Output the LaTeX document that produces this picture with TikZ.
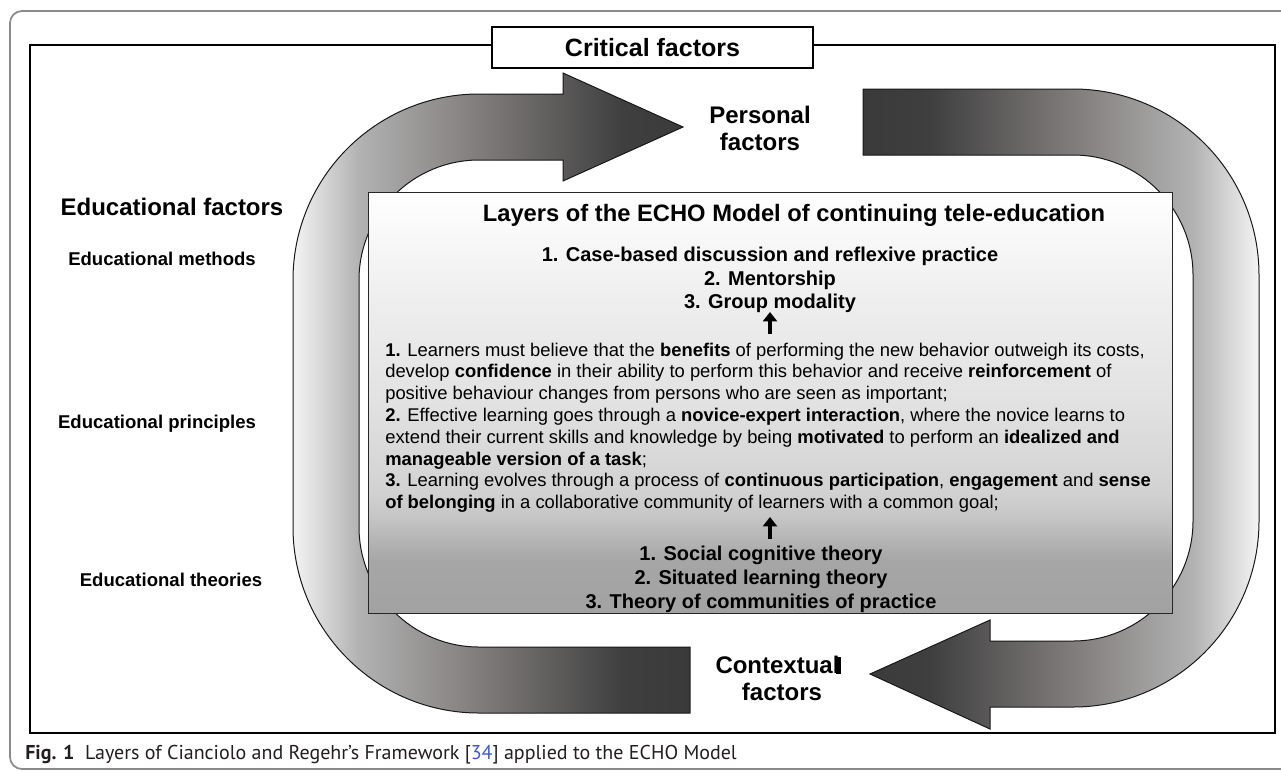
\documentclass[tikz,border=0pt]{standalone}
\usepackage{fontspec}
\setmainfont{Liberation Sans}
\newfontfamily\capfont{PT Sans}
\usetikzlibrary{arrows.meta}

\definecolor{aW}{HTML}{F4F4F4}
\definecolor{aL}{HTML}{B2B2B2}
\definecolor{aM}{HTML}{807C7B}
\definecolor{aD}{HTML}{3F3F3F}
\definecolor{aDD}{HTML}{3A3A3A}
\definecolor{b0}{HTML}{A2A2A2}
\definecolor{b1}{HTML}{A6A6A6}
\definecolor{b2}{HTML}{B4B4B4}
\definecolor{b3}{HTML}{C6C6C6}
\definecolor{b4}{HTML}{D2D2D2}
\definecolor{b5}{HTML}{E2E2E2}
\definecolor{b6}{HTML}{EEEEEE}
\definecolor{b7}{HTML}{FFFFFF}
\definecolor{framegray}{HTML}{8A8A8A}
\definecolor{linkblue}{HTML}{3B5BDB}
\definecolor{captext}{HTML}{231F20}

\pgfdeclarehorizontalshading{arrowA}{100bp}{color(0bp)=(aW); color(25bp)=(aW); color(33.3bp)=(aL); color(48.5bp)=(aM); color(66.5bp)=(aD); color(75bp)=(aDD); color(100bp)=(aDD)}
\pgfdeclarehorizontalshading{arrowB}{100bp}{color(0bp)=(aDD); color(25bp)=(aDD); color(33.5bp)=(aD); color(51.5bp)=(aM); color(66.7bp)=(aL); color(75bp)=(aW); color(100bp)=(aW)}
\pgfdeclareverticalshading{boxshade}{100bp}{color(0bp)=(b0); color(25bp)=(b0); color(31.3bp)=(b1); color(33.7bp)=(b2); color(36.6bp)=(b3); color(39.6bp)=(b4); color(50.3bp)=(b5); color(62.2bp)=(b6); color(75bp)=(b7); color(100bp)=(b7)}

\tikzset{
  heading/.style={font=\fontsize{18}{20}\selectfont\bfseries, anchor=base, inner sep=0pt},
  sidelabel/.style={font=\fontsize{13.9}{16}\selectfont\bfseries, anchor=base, inner sep=0pt},
  methline/.style={font=\fontsize{15}{17}\selectfont\bfseries, anchor=base, inner sep=0pt},
  bodyline/.style={font=\fontsize{13.8}{16}\selectfont, anchor=base west, inner sep=0pt},
  bigarrow/.style={draw=black!90, line width=0.75pt},
  uparrow/.style={line width=3pt, -{Triangle[length=7pt,width=10.5pt]}},
}

\begin{document}
\begin{tikzpicture}[x=0.75pt,y=-0.75pt]
\useasboundingbox (0,0) rectangle (1281,772);
\fill[white] (0,0) rectangle (1281,772);
\clip (0,0) rectangle (1281,772);

% outer rounded frame
\draw[framegray, line width=1.3pt, rounded corners=9pt] (10,11) rectangle (1300,769);
% inner frame
\draw[black, line width=1.5pt] (30,45) rectangle (1275,733);
% critical factors box
\node[draw, fill=white, line width=1.1pt, minimum width=240.75pt, minimum height=30.75pt, inner sep=0pt,
      font=\fontsize{18.75}{20}\selectfont\bfseries] (crit) at (652.5,47.5) {Critical factors};

% left arrow (educational -> personal)
\shadedraw[shading=arrowA, bigarrow]
  (690,647) -- (479,647) arc[start angle=90, end angle=180, radius=120]
  -- (359,280) arc[start angle=180, end angle=270, radius=120]
  -- (563,160) -- (563,181) -- (683,127) -- (563,73) -- (563,94) -- (479,94)
  arc[start angle=270, end angle=180, radius=186]
  -- (293,527) arc[start angle=180, end angle=90, radius=186]
  -- (690,713) -- cycle;

% right arrow (personal -> contextual)
\shadedraw[shading=arrowB, bigarrow]
  (863,89) -- (1073,89) arc[start angle=270, end angle=360, radius=186]
  -- (1259,521) arc[start angle=0, end angle=90, radius=186]
  -- (990,707) -- (990,729) -- (870,674) -- (990,620) -- (990,641) -- (1073,641)
  arc[start angle=90, end angle=0, radius=120]
  -- (1193,275) arc[start angle=0, end angle=-90, radius=120]
  -- (863,155) -- cycle;

% central box
\node[draw=black!85, line width=1.1pt, shading=boxshade, shade, minimum width=603pt, minimum height=315.75pt,
      inner sep=0pt, anchor=north west] (core) at (368,192) {};

% labels outside
\node[heading] (personal1) at (760,123) {Personal};
\node[heading] (personal2) at (760,150) {factors};
\node[heading] (context1) at (777.5,673.6) {Contextual};
\node[heading] (context2) at (782,700.6) {factors};
\fill[black] (836,657) rectangle (841,674);

\node[heading] (edufac) at (172,215.6) {Educational factors};
\node[sidelabel] (edumeth) at (162,265.6) {Educational methods};
\node[sidelabel] (eduprin) at (157,428.6) {Educational principles};
\node[sidelabel] (eduthe) at (171,586.6) {Educational theories};

% central box content
\node[heading, font=\fontsize{17.8}{20}\selectfont\bfseries] (title) at (794,221.6) {Layers of the ECHO Model of continuing tele-education};
\node[methline] (m1) at (770,261) {1. Case-based discussion and reflexive practice};
\node[methline] (m2) at (770,285) {2. Mentorship};
\node[methline] (m3) at (770,308) {3. Group modality};

\coordinate (up1s) at (770,334);
\coordinate (up1e) at (770,312);
\draw[uparrow] (up1s) -- (up1e);

\node[bodyline] (p1) at (385,356) {\textbf{1.} Learners must believe that the \textbf{benefits} of performing the new behavior outweigh its costs,};
\node[bodyline] (p2) at (385,377.8) {develop \textbf{confidence} in their ability to perform this behavior and receive \textbf{reinforcement} of};
\node[bodyline] (p3) at (385,399.6) {positive behaviour changes from persons who are seen as important;};
\node[bodyline] (p4) at (385,421.4) {\textbf{2.} Effective learning goes through a \textbf{novice-expert interaction}, where the novice learns to};
\node[bodyline] (p5) at (385,443.2) {extend their current skills and knowledge by being \textbf{motivated} to perform an \textbf{idealized and}};
\node[bodyline] (p6) at (385,465) {\textbf{manageable version of a task};};
\node[bodyline] (p7) at (385,486.8) {\textbf{3.} Learning evolves through a process of \textbf{continuous participation}, \textbf{engagement} and \textbf{sense}};
\node[bodyline] (p8) at (385,508.6) {\textbf{of belonging} in a collaborative community of learners with a common goal;};

\coordinate (up2s) at (770,539);
\coordinate (up2e) at (770,517);
\draw[uparrow] (up2s) -- (up2e);

\node[methline] (t1) at (761,560) {1. Social cognitive theory};
\node[methline] (t2) at (761,584) {2. Situated learning theory};
\node[methline] (t3) at (761,608) {3. Theory of communities of practice};

% caption
\node[anchor=base west, inner sep=0pt, text=captext, font=\capfont\fontsize{15}{17}\selectfont] (caption) at (25,759)
  {\textbf{Fig. 1}\hspace{8pt}Layers of Cianciolo and Regehr’s Framework [\textcolor{linkblue}{34}] applied to the ECHO Model};
\end{tikzpicture}
\end{document}
